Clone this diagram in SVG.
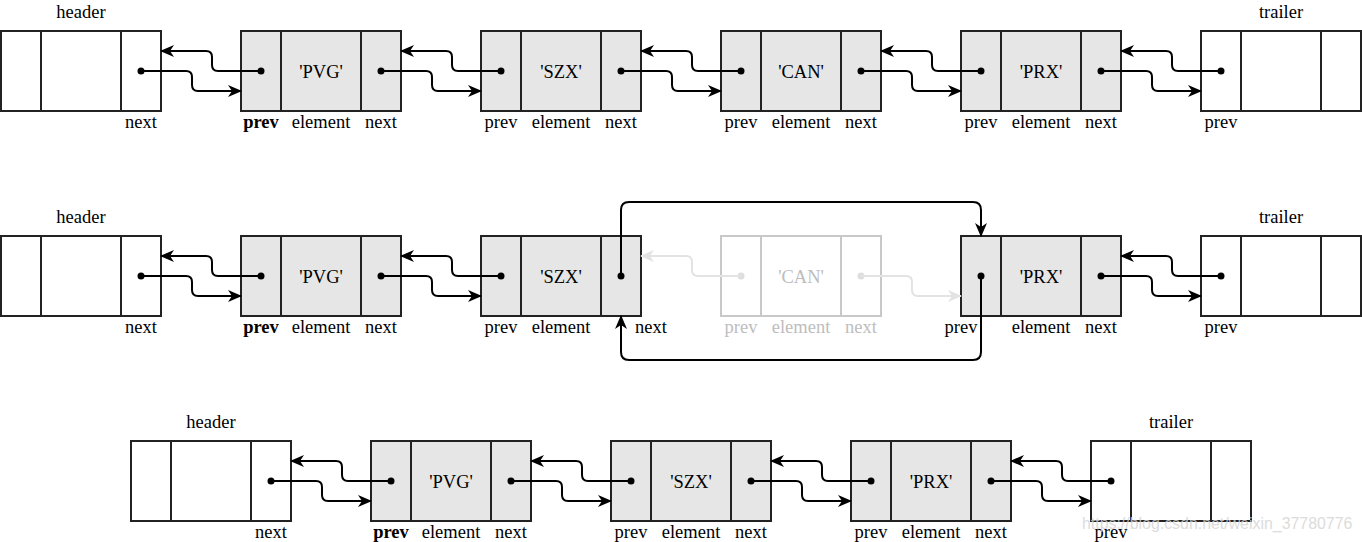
<svg xmlns="http://www.w3.org/2000/svg" width="1362" height="542" viewBox="0 0 1362 542">
<style>
.box{fill:#fff;stroke:#222;stroke-width:2}
.gbox{fill:#e6e6e6;stroke:#222;stroke-width:2}
.fbox{fill:#fff;stroke:#c8c8c8;stroke-width:2}
.t{font-family:"Liberation Serif","Times New Roman",serif;font-size:18.5px;fill:#000;text-anchor:middle}
.b{font-weight:bold}
.ft{fill:#bdbdbd}
.c{fill:none;stroke:#000;stroke-width:2}
.fc{fill:none;stroke:#e3e3e3;stroke-width:2}
.d{fill:#000}
.fd{fill:#dedede}
.wm{font-family:"Liberation Sans",Arial,sans-serif;font-size:15.9px;fill:#d4d4d4;opacity:0.8}
</style>
<defs>
<marker id="a" viewBox="0 0 14 12" refX="13" refY="6" markerWidth="14" markerHeight="12" markerUnits="userSpaceOnUse" orient="auto">
<path d="M0,0 L14,6 L0,12 L4,6 z" fill="#000"/>
</marker>
<marker id="fa" viewBox="0 0 14 12" refX="13" refY="6" markerWidth="14" markerHeight="12" markerUnits="userSpaceOnUse" orient="auto">
<path d="M0,0 L14,6 L0,12 L4,6 z" fill="#e3e3e3"/>
</marker>
</defs>

<!-- Row 1 -->
<g id="r1-header">
<rect class="box" x="1" y="31" width="160" height="80"/>
<line class="box" x1="41" y1="31" x2="41" y2="111"/><line class="box" x1="121" y1="31" x2="121" y2="111"/>
<text class="t" x="81" y="18">header</text>
<text class="t" x="141" y="128">next</text>
<circle class="d" cx="141" cy="71" r="3.5"/>
</g>
<g id="r1-pvg">
<rect class="gbox" x="241" y="31" width="160" height="80"/>
<line class="gbox" x1="281" y1="31" x2="281" y2="111"/><line class="gbox" x1="361" y1="31" x2="361" y2="111"/>
<text class="t" x="321" y="77.5">'PVG'</text>
<text class="t b" x="261" y="128">prev</text><text class="t" x="321" y="128">element</text><text class="t" x="381" y="128">next</text>
<circle class="d" cx="261" cy="71" r="3.5"/><circle class="d" cx="381" cy="71" r="3.5"/>
</g>
<g id="r1-szx">
<rect class="gbox" x="481" y="31" width="160" height="80"/>
<line class="gbox" x1="521" y1="31" x2="521" y2="111"/><line class="gbox" x1="601" y1="31" x2="601" y2="111"/>
<text class="t" x="561" y="77.5">'SZX'</text>
<text class="t" x="501" y="128">prev</text><text class="t" x="561" y="128">element</text><text class="t" x="621" y="128">next</text>
<circle class="d" cx="501" cy="71" r="3.5"/><circle class="d" cx="621" cy="71" r="3.5"/>
</g>
<g id="r1-can">
<rect class="gbox" x="721" y="31" width="160" height="80"/>
<line class="gbox" x1="761" y1="31" x2="761" y2="111"/><line class="gbox" x1="841" y1="31" x2="841" y2="111"/>
<text class="t" x="801" y="77.5">'CAN'</text>
<text class="t" x="741" y="128">prev</text><text class="t" x="801" y="128">element</text><text class="t" x="861" y="128">next</text>
<circle class="d" cx="741" cy="71" r="3.5"/><circle class="d" cx="861" cy="71" r="3.5"/>
</g>
<g id="r1-prx">
<rect class="gbox" x="961" y="31" width="160" height="80"/>
<line class="gbox" x1="1001" y1="31" x2="1001" y2="111"/><line class="gbox" x1="1081" y1="31" x2="1081" y2="111"/>
<text class="t" x="1041" y="77.5">'PRX'</text>
<text class="t" x="981" y="128">prev</text><text class="t" x="1041" y="128">element</text><text class="t" x="1101" y="128">next</text>
<circle class="d" cx="981" cy="71" r="3.5"/><circle class="d" cx="1101" cy="71" r="3.5"/>
</g>
<g id="r1-trailer">
<rect class="box" x="1201" y="31" width="160" height="80"/>
<line class="box" x1="1241" y1="31" x2="1241" y2="111"/><line class="box" x1="1321" y1="31" x2="1321" y2="111"/>
<text class="t" x="1281" y="18">trailer</text>
<text class="t" x="1221" y="128">prev</text>
<circle class="d" cx="1221" cy="71" r="3.5"/>
</g>

<!-- Row 2 -->
<g id="r2-header">
<rect class="box" x="1" y="236" width="160" height="80"/>
<line class="box" x1="41" y1="236" x2="41" y2="316"/><line class="box" x1="121" y1="236" x2="121" y2="316"/>
<text class="t" x="81" y="223">header</text>
<text class="t" x="141" y="333">next</text>
<circle class="d" cx="141" cy="276" r="3.5"/>
</g>
<g id="r2-pvg">
<rect class="gbox" x="241" y="236" width="160" height="80"/>
<line class="gbox" x1="281" y1="236" x2="281" y2="316"/><line class="gbox" x1="361" y1="236" x2="361" y2="316"/>
<text class="t" x="321" y="282.5">'PVG'</text>
<text class="t b" x="261" y="333">prev</text><text class="t" x="321" y="333">element</text><text class="t" x="381" y="333">next</text>
<circle class="d" cx="261" cy="276" r="3.5"/><circle class="d" cx="381" cy="276" r="3.5"/>
</g>
<g id="r2-szx">
<rect class="gbox" x="481" y="236" width="160" height="80"/>
<line class="gbox" x1="521" y1="236" x2="521" y2="316"/><line class="gbox" x1="601" y1="236" x2="601" y2="316"/>
<text class="t" x="561" y="282.5">'SZX'</text>
<text class="t" x="501" y="333">prev</text><text class="t" x="561" y="333">element</text><text class="t" x="651" y="333">next</text>
<circle class="d" cx="501" cy="276" r="3.5"/><circle class="d" cx="621" cy="276" r="3.5"/>
</g>
<g id="r2-can">
<rect class="fbox" x="721" y="236" width="160" height="80"/>
<line class="fbox" x1="761" y1="236" x2="761" y2="316"/><line class="fbox" x1="841" y1="236" x2="841" y2="316"/>
<text class="t ft" x="801" y="282.5">'CAN'</text>
<text class="t ft" x="741" y="333">prev</text><text class="t ft" x="801" y="333">element</text><text class="t ft" x="861" y="333">next</text>
<circle class="fd" cx="741" cy="276" r="3.5"/><circle class="fd" cx="861" cy="276" r="3.5"/>
</g>
<g id="r2-prx">
<rect class="gbox" x="961" y="236" width="160" height="80"/>
<line class="gbox" x1="1001" y1="236" x2="1001" y2="316"/><line class="gbox" x1="1081" y1="236" x2="1081" y2="316"/>
<text class="t" x="1041" y="282.5">'PRX'</text>
<text class="t" x="961" y="333">prev</text><text class="t" x="1041" y="333">element</text><text class="t" x="1101" y="333">next</text>
<circle class="d" cx="981" cy="276" r="3.5"/><circle class="d" cx="1101" cy="276" r="3.5"/>
</g>
<g id="r2-trailer">
<rect class="box" x="1201" y="236" width="160" height="80"/>
<line class="box" x1="1241" y1="236" x2="1241" y2="316"/><line class="box" x1="1321" y1="236" x2="1321" y2="316"/>
<text class="t" x="1281" y="223">trailer</text>
<text class="t" x="1221" y="333">prev</text>
<circle class="d" cx="1221" cy="276" r="3.5"/>
</g>

<!-- Row 3 -->
<g id="r3-header">
<rect class="box" x="131" y="441" width="160" height="80"/>
<line class="box" x1="171" y1="441" x2="171" y2="521"/><line class="box" x1="251" y1="441" x2="251" y2="521"/>
<text class="t" x="211" y="428">header</text>
<text class="t" x="271" y="538">next</text>
<circle class="d" cx="271" cy="481" r="3.5"/>
</g>
<g id="r3-pvg">
<rect class="gbox" x="371" y="441" width="160" height="80"/>
<line class="gbox" x1="411" y1="441" x2="411" y2="521"/><line class="gbox" x1="491" y1="441" x2="491" y2="521"/>
<text class="t" x="451" y="487.5">'PVG'</text>
<text class="t b" x="391" y="538">prev</text><text class="t" x="451" y="538">element</text><text class="t" x="511" y="538">next</text>
<circle class="d" cx="391" cy="481" r="3.5"/><circle class="d" cx="511" cy="481" r="3.5"/>
</g>
<g id="r3-szx">
<rect class="gbox" x="611" y="441" width="160" height="80"/>
<line class="gbox" x1="651" y1="441" x2="651" y2="521"/><line class="gbox" x1="731" y1="441" x2="731" y2="521"/>
<text class="t" x="691" y="487.5">'SZX'</text>
<text class="t" x="631" y="538">prev</text><text class="t" x="691" y="538">element</text><text class="t" x="751" y="538">next</text>
<circle class="d" cx="631" cy="481" r="3.5"/><circle class="d" cx="751" cy="481" r="3.5"/>
</g>
<g id="r3-prx">
<rect class="gbox" x="851" y="441" width="160" height="80"/>
<line class="gbox" x1="891" y1="441" x2="891" y2="521"/><line class="gbox" x1="971" y1="441" x2="971" y2="521"/>
<text class="t" x="931" y="487.5">'PRX'</text>
<text class="t" x="871" y="538">prev</text><text class="t" x="931" y="538">element</text><text class="t" x="991" y="538">next</text>
<circle class="d" cx="871" cy="481" r="3.5"/><circle class="d" cx="991" cy="481" r="3.5"/>
</g>
<g id="r3-trailer">
<rect class="box" x="1091" y="441" width="160" height="80"/>
<line class="box" x1="1131" y1="441" x2="1131" y2="521"/><line class="box" x1="1211" y1="441" x2="1211" y2="521"/>
<text class="t" x="1171" y="428">trailer</text>
<text class="t" x="1111" y="538">prev</text>
<circle class="d" cx="1111" cy="481" r="3.5"/>
</g>

<g id="connectors">
<!-- Row 1 -->
<path class="c" marker-end="url(#a)" d="M141 71H186Q192 71 192 77V85Q192 91 198 91H241"/>
<path class="c" marker-end="url(#a)" d="M261 71H218Q212 71 212 65V57Q212 51 206 51H161"/>
<path class="c" marker-end="url(#a)" d="M381 71H426Q432 71 432 77V85Q432 91 438 91H481"/>
<path class="c" marker-end="url(#a)" d="M501 71H458Q452 71 452 65V57Q452 51 446 51H401"/>
<path class="c" marker-end="url(#a)" d="M621 71H666Q672 71 672 77V85Q672 91 678 91H721"/>
<path class="c" marker-end="url(#a)" d="M741 71H698Q692 71 692 65V57Q692 51 686 51H641"/>
<path class="c" marker-end="url(#a)" d="M861 71H906Q912 71 912 77V85Q912 91 918 91H961"/>
<path class="c" marker-end="url(#a)" d="M981 71H938Q932 71 932 65V57Q932 51 926 51H881"/>
<path class="c" marker-end="url(#a)" d="M1101 71H1146Q1152 71 1152 77V85Q1152 91 1158 91H1201"/>
<path class="c" marker-end="url(#a)" d="M1221 71H1178Q1172 71 1172 65V57Q1172 51 1166 51H1121"/>
<!-- Row 2 -->
<path class="c" marker-end="url(#a)" d="M141 276H186Q192 276 192 282V290Q192 296 198 296H241"/>
<path class="c" marker-end="url(#a)" d="M261 276H218Q212 276 212 270V262Q212 256 206 256H161"/>
<path class="c" marker-end="url(#a)" d="M381 276H426Q432 276 432 282V290Q432 296 438 296H481"/>
<path class="c" marker-end="url(#a)" d="M501 276H458Q452 276 452 270V262Q452 256 446 256H401"/>
<path class="fc" marker-end="url(#fa)" d="M741 276H698Q692 276 692 270V262Q692 256 686 256H641"/>
<path class="fc" marker-end="url(#fa)" d="M861 276H906Q912 276 912 282V290Q912 296 918 296H961"/>
<path class="c" marker-end="url(#a)" d="M621 276V210Q621 202 629 202H973Q981 202 981 210V236"/>
<path class="c" marker-end="url(#a)" d="M981 276V352Q981 360 973 360H629Q621 360 621 352V316"/>
<path class="c" marker-end="url(#a)" d="M1101 276H1146Q1152 276 1152 282V290Q1152 296 1158 296H1201"/>
<path class="c" marker-end="url(#a)" d="M1221 276H1178Q1172 276 1172 270V262Q1172 256 1166 256H1121"/>
<!-- Row 3 -->
<path class="c" marker-end="url(#a)" d="M271 481H316Q322 481 322 487V495Q322 501 328 501H371"/>
<path class="c" marker-end="url(#a)" d="M391 481H348Q342 481 342 475V467Q342 461 336 461H291"/>
<path class="c" marker-end="url(#a)" d="M511 481H556Q562 481 562 487V495Q562 501 568 501H611"/>
<path class="c" marker-end="url(#a)" d="M631 481H588Q582 481 582 475V467Q582 461 576 461H531"/>
<path class="c" marker-end="url(#a)" d="M751 481H796Q802 481 802 487V495Q802 501 808 501H851"/>
<path class="c" marker-end="url(#a)" d="M871 481H828Q822 481 822 475V467Q822 461 816 461H771"/>
<path class="c" marker-end="url(#a)" d="M991 481H1036Q1042 481 1042 487V495Q1042 501 1048 501H1091"/>
<path class="c" marker-end="url(#a)" d="M1111 481H1068Q1062 481 1062 475V467Q1062 461 1056 461H1011"/>
</g>

<text class="wm" x="1082" y="529">https://blog.csdn.net/weixin_37780776</text>
</svg>
